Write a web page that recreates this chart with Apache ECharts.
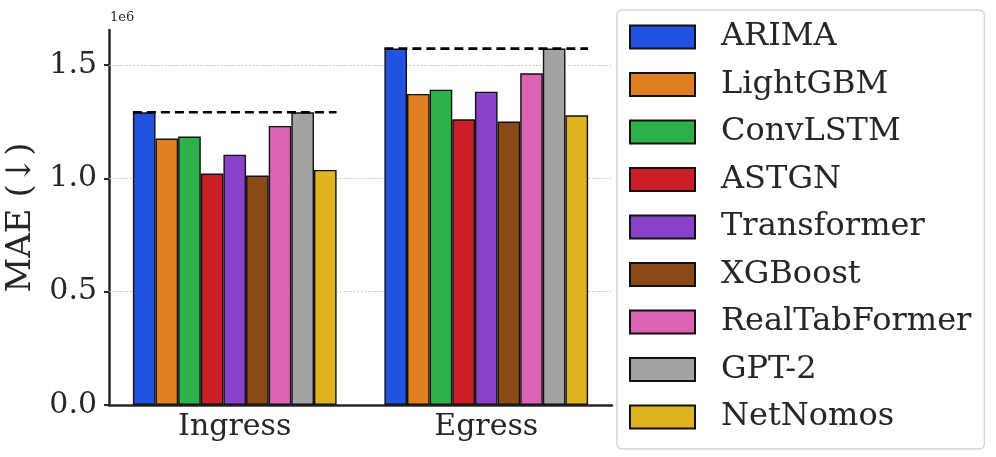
<!DOCTYPE html>
<html>
<head>
<meta charset="utf-8">
<script src="https://cdn.jsdelivr.net/npm/echarts@6/dist/echarts.min.js"></script>
<style>
  html, body { margin: 0; padding: 0; background: #fff; }
  #chart { width: 996px; height: 457px; }
</style>
</head>
<body>
<div id="chart"></div>
<script>
// categories and methods
var categories = ['Ingress', 'Egress'];
var methods = ['ARIMA', 'LightGBM', 'ConvLSTM', 'ASTGN', 'Transformer', 'XGBoost', 'RealTabFormer', 'GPT-2', 'NetNomos'];
var colors = ['#2252e0', '#e07e22', '#2fb14a', '#cb1f28', '#8a41c9', '#8a4a17', '#dc62b6', '#a3a3a3', '#dfb320'];

// MAE values per method: [Ingress, Egress]
var arima = [1291000, 1572000];
var lightgbm = [1175000, 1372000];
var convlstm = [1184000, 1391000];
var astgn = [1021000, 1260000];
var transformer = [1104000, 1382000];
var xgboost = [1012000, 1250000];
var realtabformer = [1231000, 1463000];
var gpt2 = [1291000, 1572000];
var netnomos = [1037000, 1278000];
var values = [arima, lightgbm, convlstm, astgn, transformer, xgboost, realtabformer, gpt2, netnomos];

var yTicks = [0, 0.5, 1.0, 1.5];

var font = 'DejaVu Serif';
var textColor = '#262626';
var catGap = 19; // percent

var chart = echarts.init(document.getElementById('chart'));

var series = methods.map(function (m, i) {
    return {
        name: m,
        type: 'bar',
        barCategoryGap: catGap + '%',
        barGap: '0%',
        z: 3,
        itemStyle: { color: colors[i], borderColor: '#111', borderWidth: 1.4 },
        emphasis: { disabled: true },
        data: values[i]
    };
});

// dotted horizontal grid at the labelled ticks only
series[0].markLine = {
    silent: true,
    symbol: 'none',
    z: 1,
    label: { show: false },
    lineStyle: { color: '#bdbdbd', width: 1, type: [1.5, 2] },
    data: yTicks.filter(function (t) { return t > 0; }).map(function (t) { return { yAxis: t * 1e6 }; })
};

// dashed line at the worst (max) value of each group
var half = (1 - catGap / 100) / 2;
categories.forEach(function (c, ci) {
    var top = Math.max.apply(null, values.map(function (v) { return v[ci]; }));
    series.push({
        type: 'line',
        xAxisIndex: 1,
        symbol: 'none',
        silent: true,
        z: 5,
        lineStyle: { color: '#000', width: 2.6, type: [9, 5] },
        data: [[ci - half, top], [ci + half, top]]
    });
});

chart.setOption({
    animation: false,
    backgroundColor: '#fff',
    textStyle: { fontFamily: font, color: textColor },
    grid: { left: 109, right: 384, top: 30, bottom: 52, containLabel: false, outerBoundsMode: 'none' },
    legend: {
        data: methods,
        orient: 'vertical',
        left: 617,
        top: 10,
        height: 430,
        padding: [11, 13, 16, 12],
        itemWidth: 65,
        itemHeight: 23,
        itemGap: 15.5,
        icon: 'rect',
        backgroundColor: '#fff',
        borderColor: '#d6d6d6',
        borderWidth: 1.5,
        borderRadius: 5,
        textStyle: { fontFamily: font, fontSize: 32, color: textColor, padding: [0, 0, 0, 21] }
    },
    graphic: [{
        type: 'text',
        left: 110,
        top: 11,
        style: { text: '1e6', font: '13px "DejaVu Serif"', fill: textColor }
    }],
    xAxis: [{
        type: 'category',
        data: categories,
        axisLine: { lineStyle: { color: '#262626', width: 2.5 } },
        axisTick: { alignWithLabel: true, length: 5, lineStyle: { color: '#262626', width: 2 } },
        axisLabel: { fontFamily: font, fontSize: 30, color: textColor, margin: 7 }
    }, {
        type: 'value',
        min: -0.5,
        max: 1.5,
        show: false
    }],
    yAxis: {
        type: 'value',
        min: 0,
        max: 1654000,
        interval: 500000,
        name: 'MAE (↓)',
        nameLocation: 'middle',
        nameGap: 58,
        nameTextStyle: { fontFamily: font, fontSize: 34, color: textColor },
        axisLine: { show: true, onZero: false, lineStyle: { color: '#262626', width: 2.5 } },
        axisTick: { show: true, length: 5, lineStyle: { color: '#262626', width: 2 } },
        axisLabel: {
            fontFamily: font, fontSize: 30, color: textColor, margin: 12,
            showMaxLabel: false,
            formatter: function (v) {
                var t = v / 1e6;
                return Math.abs(t * 2 - Math.round(t * 2)) < 1e-9 ? t.toFixed(1) : '';
            }
        },
        splitLine: { show: false }
    },
    series: series
});
</script>
</body>
</html>
